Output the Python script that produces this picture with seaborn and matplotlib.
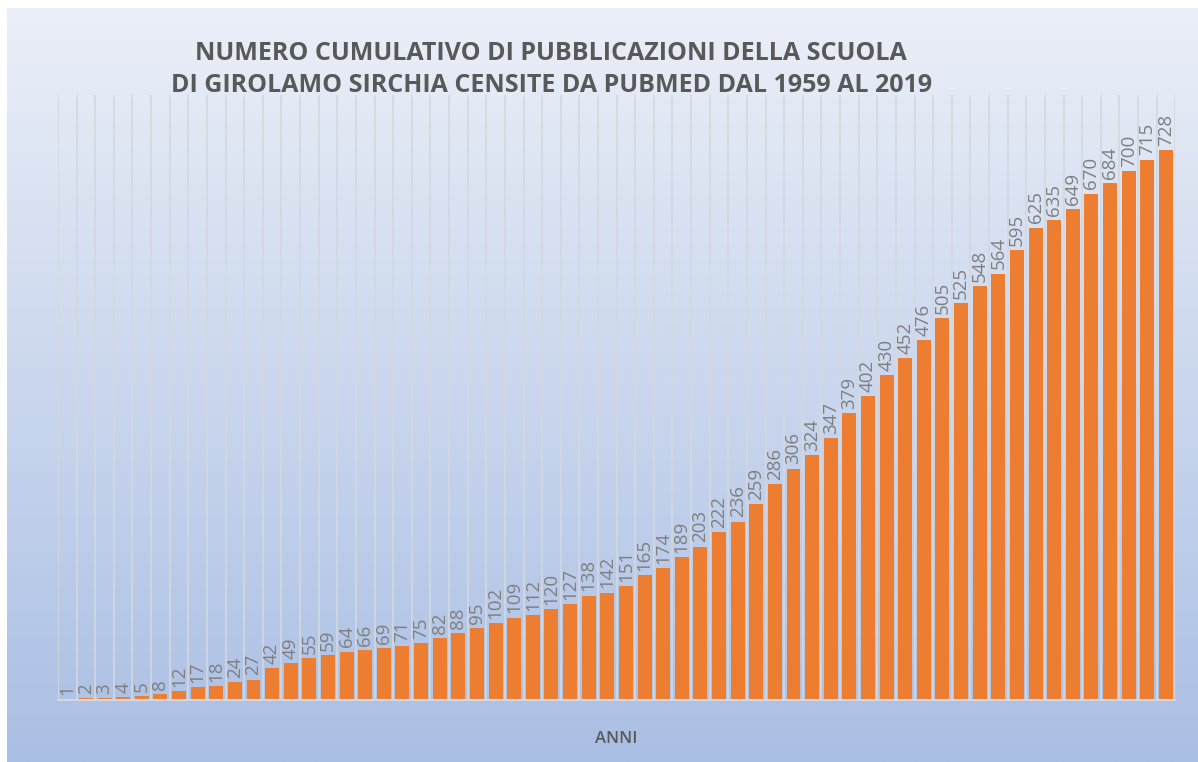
import numpy as np
import pandas as pd
import matplotlib
matplotlib.use('Agg')
import matplotlib.pyplot as plt
import seaborn as sns

# cumulative publication counts, one per year
anni = list(range(1960, 2020))
pubblicazioni = [1, 2, 3, 4, 5, 8, 12, 17, 18, 24,
                 27, 42, 49, 55, 59, 64, 66, 69, 71, 75,
                 82, 88, 95, 102, 109, 112, 120, 127, 138, 142,
                 151, 165, 174, 189, 203, 222, 236, 259, 286, 306,
                 324, 347, 379, 402, 430, 452, 476, 505, 525, 548,
                 564, 595, 625, 635, 649, 670, 684, 700, 715, 728]

df = pd.DataFrame({'anno': [str(a) for a in anni], 'n': pubblicazioni})

sns.set_style('white')
plt.rcParams['font.family'] = ['Open Sans', 'DejaVu Sans']

fig = plt.figure(figsize=(11.98, 7.62), dpi=100)

# gradient background
bg = fig.add_axes([0.006, 0, 0.994, 0.99], zorder=-1)
grad = np.linspace(0, 1, 256).reshape(-1, 1)
cmap = matplotlib.colors.LinearSegmentedColormap.from_list('bg', ['#ebeff8', '#aabfe4'])
bg.imshow(grad, aspect='auto', cmap=cmap, extent=[0, 1, 0, 1], origin='upper')
bg.axis('off')

ax = fig.add_axes([0.0484, 0.0814, 0.9326, 0.7936])
ax.patch.set_alpha(0)
sns.barplot(data=df, x='anno', y='n', color='#ed7d31', width=0.75,
            saturation=1, edgecolor='#ed7d31', linewidth=0, ax=ax)

ax.set_ylim(0, 800)
ax.set_xlim(-0.5, len(anni) - 0.5)
for i in range(len(anni) + 1):
    ax.axvline(i - 0.5, color='#d4d8de', lw=1.2, zorder=0)

ax.bar_label(ax.containers[0], rotation=90, padding=3, fontsize=13.5, color='#7f7f7f')

for s in ['top', 'right', 'left']:
    ax.spines[s].set_visible(False)
ax.spines['bottom'].set_color('#d4d8de')
ax.spines['bottom'].set_linewidth(1.5)
ax.set_xticks([])
ax.set_yticks([])
ax.set_ylabel('')
ax.set_xlabel('ANNI', fontsize=12, color='#595959', labelpad=22, fontweight='semibold')

fig.text(0.46, 0.909, 'NUMERO CUMULATIVO DI PUBBLICAZIONI DELLA SCUOLA\nDI GIROLAMO SIRCHIA CENSITE DA PUBMED DAL 1959 AL 2019',
         ha='center', va='center', fontsize=18, fontweight='bold', color='#595959',
         linespacing=1.4)

fig.savefig('out.png', dpi=100)
